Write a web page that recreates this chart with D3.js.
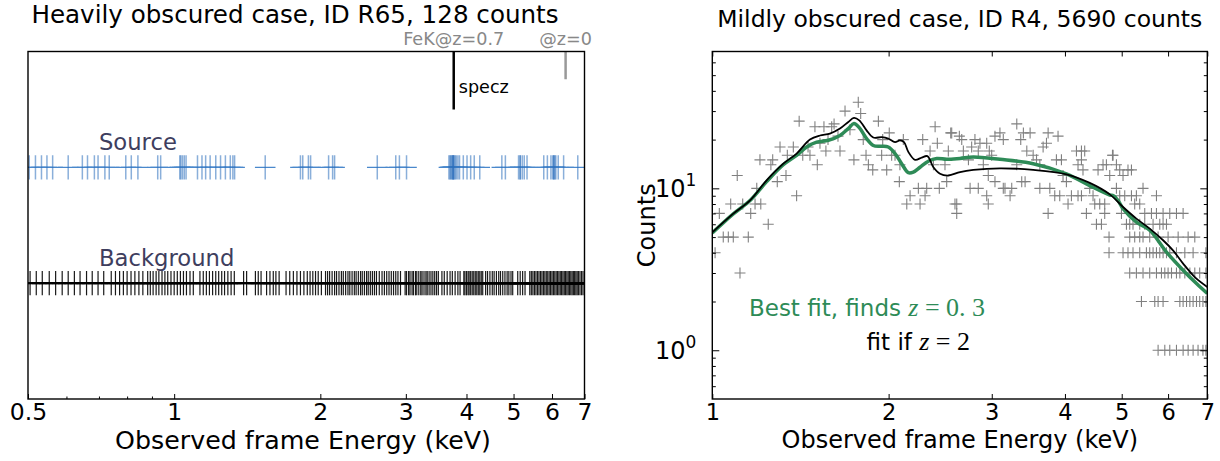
<!DOCTYPE html>
<html>
<head>
<meta charset="utf-8">
<script src="https://cdn.jsdelivr.net/npm/d3@7"></script>
<style>
  body { margin: 0; background: #fff; }
  text { font-family: "DejaVu Sans", sans-serif; }
</style>
</head>
<body>
<script>
// ---- data ----
var leftTitle = "Heavily obscured case, ID R65, 128 counts"
var rightTitle = "Mildly obscured case, ID R4, 5690 counts"
var xLabel = "Observed frame Energy (keV)"
var yLabel = "Counts"

var leftTicks = [0.5, 1, 2, 3, 4, 5, 6, 7]
var leftMinor = [0.6, 0.7, 0.8, 0.9]
var rightTicks = [1, 2, 3, 4, 5, 6, 7]
var rightYTicks = [1, 10]
var rightYMinor = [0.6, 0.7, 0.8, 0.9, 2, 3, 4, 5, 6, 7, 8, 9, 20, 30, 40, 50, 60]

var speczE = 3.765   // FeK line at z=0.7
var fekE = 6.4       // FeK line at z=0

// source photon energies (keV)
var sourceE = [0.503, 0.518, 0.533, 0.547, 0.562, 0.605, 0.647, 0.663, 0.685, 0.697,
  0.720, 0.735, 0.795, 0.816, 0.842, 0.925, 0.938, 1.027, 1.032, 1.040, 1.049, 1.058,
  1.117, 1.141, 1.161, 1.186, 1.218, 1.246, 1.275, 1.305, 1.321, 1.332, 1.54,
  1.82, 1.84, 1.89, 1.91, 2.08, 2.12, 2.14, 2.62, 2.86, 2.91, 3.01,
  3.68, 3.70, 3.71, 3.73, 3.74, 3.75, 3.76, 3.76, 3.77, 3.79, 3.81, 3.84, 3.87, 3.94,
  4.01, 4.08, 4.15, 4.26, 4.73, 4.81, 5.12, 5.16, 5.16, 5.21, 5.26, 5.33,
  5.77, 5.87, 5.97, 6.02, 6.05, 6.05, 6.08, 6.11, 6.18, 6.34, 6.78]

// background photon energies (keV)
var backgroundE = [0.505, 0.52, 0.535, 0.553, 0.57, 0.588, 0.605, 0.623, 0.64, 0.66, 0.678, 0.697, 0.716,
  0.742, 0.757, 0.772, 0.786, 0.80, 0.815, 0.83, 0.846, 0.862,
  0.882, 0.893, 0.905, 0.918, 0.93, 0.944, 0.957, 0.97, 0.985, 1.0, 1.015, 1.03, 1.045, 1.06, 1.078, 1.095,
  1.13, 1.148, 1.165, 1.182, 1.2, 1.218, 1.235, 1.253, 1.27, 1.29, 1.31, 1.33,
  1.39, 1.41, 1.47, 1.49, 1.51, 1.55, 1.575, 1.60, 1.62, 1.645, 1.70, 1.73, 1.76, 1.79,
  1.82, 1.85, 1.88, 1.905, 1.93, 1.955, 1.98, 2.01,
  2.05, 2.07, 2.09, 2.115, 2.14, 2.16, 2.185, 2.21, 2.23, 2.255, 2.28, 2.3, 2.325, 2.35, 2.37,
  2.395, 2.42, 2.44, 2.465, 2.49, 2.51, 2.535, 2.56, 2.585, 2.61,
  2.645, 2.68, 2.71, 2.74, 2.77, 2.8, 2.83, 2.86, 2.89, 2.925,
  2.99, 3.01, 3.04, 3.06, 3.09, 3.11, 3.14, 3.16, 3.19, 3.22, 3.24, 3.27, 3.3, 3.32, 3.35, 3.38, 3.41, 3.44, 3.47, 3.5,
  3.56, 3.6, 3.65, 3.7, 3.74, 3.79, 3.84, 3.88,
  3.95, 3.97, 4.0, 4.03, 4.05, 4.08, 4.11, 4.14, 4.17, 4.2, 4.23, 4.26, 4.29, 4.32,
  4.38, 4.42, 4.47, 4.52, 4.56, 4.61, 4.66, 4.7, 4.75, 4.8, 4.85, 4.89, 4.94, 4.98,
  5.1, 5.16, 5.22, 5.28,
  5.4, 5.44, 5.48, 5.52, 5.56, 5.6, 5.64, 5.68, 5.72, 5.76, 5.8, 5.84, 5.88, 5.92, 5.96, 6.0,
  6.04, 6.08, 6.12, 6.16, 6.2, 6.24, 6.28, 6.32, 6.36, 6.4, 6.44, 6.48, 6.52, 6.56, 6.6, 6.64,
  6.68, 6.72, 6.76, 6.8, 6.85, 6.9, 6.95]

// binned spectrum of R4: [energy keV, counts]
var spectrum = [
  [1.028, 7], [1.075, 8], [1.103, 12], [1.127, 8], [1.163, 7], [1.183, 8], [1.191, 10], [1.210, 8],
  [1.206, 15], [1.246, 6], [1.259, 14], [1.268, 15], [1.291, 11], [1.305, 18], [1.336, 12], [1.343, 16],
  [1.393, 9], [1.407, 26], [1.375, 18], [1.427, 16], [1.468, 16], [1.511, 14], [1.497, 24], [1.527, 19],
  [1.551, 24], [1.563, 17], [1.599, 24], [1.614, 25], [1.652, 17], [1.685, 30], [1.745, 15], [1.775, 34],
  [1.792, 29], [1.810, 20], [1.847, 14], [1.879, 13], [1.921, 26], [1.946, 16], [1.985, 13], [2.005, 22],
  [2.024, 16], [2.086, 11], [2.119, 20], [2.176, 9], [2.148, 8], [2.248, 10], [2.263, 8], [2.287, 20],
  [2.323, 10], [2.308, 9], [2.354, 17], [2.401, 24], [2.422, 19], [2.441, 10], [2.496, 14], [2.529, 17],
  [2.553, 22], [2.614, 8], [2.614, 7], [2.641, 21], [2.513, 11], [2.385, 14], [2.091, 14], [2.051, 16],
  [1.954, 20], [1.830, 16], [1.718, 23], [1.011, 4], [1.044, 5], [1.065, 5], [1.086, 5], [1.152, 5],
  [1.115, 3], [1.457, 18], [1.576, 20], [1.639, 21],
  [2.563, 22], [2.666, 20], [2.596, 8], [2.683, 17], [2.737, 15], [2.772, 18], [2.808, 20], [2.845, 17],
  [2.864, 19], [2.902, 14], [2.941, 19], [2.971, 17], [2.999, 16], [3.038, 21], [3.098, 22], [3.139, 20],
  [3.139, 10], [2.755, 10], [2.845, 10], [2.941, 9], [2.959, 8], [2.959, 12], [3.038, 11], [3.160, 10],
  [3.224, 9], [3.245, 10], [3.310, 25], [3.310, 14], [3.362, 20], [3.397, 22], [3.488, 22], [3.375, 11],
  [3.420, 11], [3.443, 17], [3.530, 16], [3.577, 15], [3.624, 14], [3.671, 18], [3.720, 19], [3.744, 22],
  [3.893, 21], [3.624, 10], [3.769, 10], [3.744, 7], [3.843, 9], [3.919, 9], [3.868, 15], [3.945, 15],
  [3.970, 12], [4.023, 11], [4.049, 8], [4.103, 9], [4.185, 17], [4.268, 17], [4.323, 17], [4.211, 14],
  [4.268, 15], [4.294, 13], [4.211, 9], [4.268, 9], [4.352, 7], [4.409, 10], [4.467, 9], [4.497, 8],
  [4.586, 8], [4.677, 8], [4.556, 13], [4.646, 14], [4.708, 14], [4.770, 12], [4.833, 16], [4.897, 14],
  [4.961, 13], [5.026, 12], [5.125, 13], [5.195, 13], [4.822, 16], [4.677, 7], [4.897, 10], [4.961, 9],
  [5.060, 9], [4.995, 7], [5.195, 9], [5.297, 9], [5.262, 8], [5.367, 8], [5.437, 10], [5.474, 7],
  [5.620, 7], [5.732, 7], [5.732, 9], [5.883, 7], [6.040, 7], [6.201, 7], [6.365, 7],
  [4.527, 6], [4.617, 6], [5.094, 6], [5.160, 6], [5.227, 6], [5.367, 6], [5.474, 6], [5.656, 6],
  [5.807, 6], [5.883, 6], [5.962, 6],
  [4.757, 5], [5.160, 5], [5.262, 5], [5.367, 5], [5.437, 5], [5.582, 5], [5.769, 5], [6.000, 5],
  [6.242, 5], [6.492, 5], [6.664, 5],
  [4.757, 4], [5.026, 4], [5.125, 4], [5.227, 4], [5.367, 4], [5.510, 4], [5.582, 4], [5.656, 4],
  [5.732, 4], [5.807, 4], [5.883, 4], [5.962, 4], [6.040, 4], [6.201, 4], [6.408, 4], [6.620, 4], [6.961, 4],
  [5.160, 3], [5.297, 3], [5.437, 3], [5.582, 3], [5.732, 3], [5.846, 3], [5.923, 3], [6.000, 3],
  [6.081, 3], [6.201, 3], [6.284, 3], [6.408, 3], [6.536, 3], [6.664, 3], [6.794, 3], [6.961, 3],
  [5.403, 2], [5.694, 2], [5.769, 2], [5.883, 2], [6.284, 2], [6.365, 2], [6.451, 2], [6.536, 2],
  [6.620, 2], [6.709, 2], [6.794, 2], [6.881, 2], [6.961, 2],
  [5.769, 1], [5.923, 1], [6.040, 1], [6.201, 1], [6.365, 1], [6.492, 1], [6.620, 1], [6.750, 1],
  [6.881, 1], [6.961, 1]
]

// model curves: [energy keV, counts]
var bestFit = [[1.0, 5.3], [1.086, 6.95], [1.16, 8.4], [1.238, 11.0], [1.322, 14.0], [1.393, 16.0],
  [1.449, 18.0], [1.507, 19.3], [1.578, 19.8], [1.652, 21.2], [1.707, 23.4], [1.745, 25.1], [1.782, 23.7],
  [1.834, 20.3], [1.883, 18.4], [1.946, 18.2], [1.997, 18.0], [2.051, 16.4], [2.105, 14.2], [2.161, 12.5],
  [2.204, 12.6], [2.263, 13.5], [2.338, 14.7], [2.417, 15.3], [2.513, 15.1], [2.648, 15.3], [2.79, 15.6],
  [3.098, 15.1], [3.53, 14.2], [4.023, 12.3], [4.409, 10.4], [4.77, 9.1], [4.84, 9.0], [4.93, 8.4],
  [5.026, 7.49], [5.297, 6.19], [5.582, 5.51], [5.962, 4.04], [6.365, 3.12], [6.709, 2.58], [7.0, 2.24]]

var fitZ2 = [[1.0, 5.35], [1.086, 6.98], [1.16, 8.43], [1.238, 11.2], [1.322, 14.2], [1.393, 16.4],
  [1.468, 20.0], [1.527, 21.2], [1.588, 21.8], [1.652, 23.4], [1.707, 25.7], [1.745, 27.2], [1.782, 26.3],
  [1.834, 22.8], [1.883, 20.6], [1.946, 20.7], [1.997, 20.3], [2.051, 19.3], [2.091, 19.8], [2.125, 19.3],
  [2.161, 16.8], [2.219, 15.0], [2.278, 15.5], [2.329, 15.8], [2.385, 13.5], [2.448, 12.3], [2.529, 12.0],
  [2.648, 12.6], [2.79, 13.0], [3.098, 13.3], [3.53, 13.0], [4.023, 12.2], [4.409, 10.8], [4.77, 9.18],
  [5.026, 7.67], [5.297, 6.5], [5.582, 5.64], [5.883, 4.78], [6.117, 4.14], [6.365, 3.43], [6.664, 2.83],
  [7.0, 2.46]]

// ---- layout ----
var width = 1220, height = 461
var top0 = 51.5, bottom0 = 399
var left = { x0: 28, x1: 584.5 }
var right = { x0: 712.3, x1: 1207.3 }
var green = "#2e8b57"
var font = "DejaVu Sans"

var svg = d3.select("body").append("svg")
  .attr("width", width).attr("height", height)
  .style("background", "#fff")

var defs = svg.append("defs")
defs.append("clipPath").attr("id", "clipL").append("rect")
  .attr("x", left.x0).attr("y", top0).attr("width", left.x1 - left.x0).attr("height", bottom0 - top0)
defs.append("clipPath").attr("id", "clipR").append("rect")
  .attr("x", right.x0).attr("y", top0).attr("width", right.x1 - right.x0).attr("height", bottom0 - top0)

function styleTicks(g, size) {
  g.select(".domain").remove()
  g.selectAll("line").attr("stroke", "#000").attr("stroke-width", 1)
  g.selectAll("text").attr("font-size", size).attr("font-family", font).attr("fill", "#000")
}

// ================= left panel =================
var xL = d3.scaleLog().domain([0.5, 7]).range([left.x0, left.x1])
var yL = d3.scaleLinear().domain([0, 3]).range([bottom0, top0])
var gL = svg.append("g")
var plotL = gL.append("g").attr("clip-path", "url(#clipL)")

var tickH = 0.105

// background
plotL.selectAll(".bgbar").data(backgroundE).enter().append("line")
  .attr("x1", d => xL(d / 1.05)).attr("x2", d => xL(d * 1.05))
  .attr("y1", yL(1)).attr("y2", yL(1))
  .attr("stroke", "#000").attr("stroke-width", 2)
plotL.selectAll(".bgtick").data(backgroundE).enter().append("line")
  .attr("x1", d => xL(d)).attr("x2", d => xL(d))
  .attr("y1", yL(1 - tickH)).attr("y2", yL(1 + tickH))
  .attr("stroke", "#000").attr("stroke-opacity", 0.9).attr("stroke-width", 1.2)

// source
plotL.selectAll(".srcbar").data(sourceE).enter().append("line")
  .attr("x1", d => xL(d / 1.05)).attr("x2", d => xL(d * 1.05))
  .attr("y1", yL(2)).attr("y2", yL(2))
  .attr("stroke", "#4a88cc").attr("stroke-width", 1.3)
plotL.selectAll(".srctick").data(sourceE).enter().append("line")
  .attr("x1", d => xL(d)).attr("x2", d => xL(d))
  .attr("y1", yL(2 - tickH)).attr("y2", yL(2 + tickH))
  .attr("stroke", "#2a6ebb").attr("stroke-opacity", 0.55).attr("stroke-width", 1.5)

// redshift markers
plotL.append("line")
  .attr("x1", xL(speczE)).attr("x2", xL(speczE))
  .attr("y1", yL(3)).attr("y2", yL(2.5))
  .attr("stroke", "#000").attr("stroke-width", 2.5)
plotL.append("line")
  .attr("x1", xL(fekE)).attr("x2", xL(fekE))
  .attr("y1", yL(3)).attr("y2", yL(2.76))
  .attr("stroke", "#999").attr("stroke-width", 2.5)

gL.append("text").attr("x", xL(speczE) + 5).attr("y", yL(2.64))
  .attr("font-size", 17.6).text("specz")
gL.append("text").attr("x", xL(speczE)).attr("y", 45).attr("text-anchor", "middle")
  .attr("font-size", 17.6).attr("fill", "#888").text("FeK@z=0.7")
gL.append("text").attr("x", xL(fekE)).attr("y", 45).attr("text-anchor", "middle")
  .attr("font-size", 17.6).attr("fill", "#888").text("@z=0")

gL.append("text").attr("x", xL(0.7)).attr("y", yL(2) - 17)
  .attr("font-size", 22.7).attr("fill", "#3e3e5e").text("Source")
gL.append("text").attr("x", xL(0.7)).attr("y", yL(1) - 17.5)
  .attr("font-size", 22.7).attr("fill", "#3e3e5e").text("Background")

// axes
gL.append("g").attr("transform", "translate(0," + bottom0 + ")")
  .call(d3.axisBottom(xL).tickValues(leftTicks).tickFormat(d3.format("")).tickSizeInner(-5).tickSizeOuter(0).tickPadding(4))
  .call(g => styleTicks(g, 23.5))
gL.append("g").attr("transform", "translate(0," + bottom0 + ")")
  .call(d3.axisBottom(xL).tickValues(leftMinor).tickFormat("").tickSizeInner(-2.5).tickSizeOuter(0))
  .call(g => styleTicks(g, 23.5))

gL.append("rect").attr("x", left.x0).attr("y", top0)
  .attr("width", left.x1 - left.x0).attr("height", bottom0 - top0)
  .attr("fill", "none").attr("stroke", "#000").attr("stroke-width", 1.4)

gL.append("text").attr("x", 295).attr("y", 22.6).attr("text-anchor", "middle")
  .attr("font-size", 24.6).text(leftTitle)
gL.append("text").attr("x", 303).attr("y", 449).attr("text-anchor", "middle")
  .attr("font-size", 25.3).text(xLabel)

// ================= right panel =================
var xR = d3.scaleLog().domain([1, 7]).range([right.x0, right.x1])
var yR = d3.scaleLog().domain([0.5, 70]).range([bottom0, top0])
var gR = svg.append("g")
var plotR = gR.append("g").attr("clip-path", "url(#clipR)")

plotR.selectAll(".pt").data(spectrum).enter().append("path")
  .attr("transform", d => "translate(" + xR(d[0]) + "," + yR(d[1]) + ")")
  .attr("d", "M-5.5,0H5.5M0,-5.5V5.5")
  .attr("stroke", "#808080").attr("stroke-width", 1.1).attr("fill", "none")

var line = d3.line()
  .x(d => xR(d[0])).y(d => yR(d[1]))
  .curve(d3.curveCatmullRom)

plotR.append("path").attr("d", line(bestFit))
  .attr("fill", "none").attr("stroke", green).attr("stroke-width", 3.5)
plotR.append("path").attr("d", line(fitZ2))
  .attr("fill", "none").attr("stroke", "#000").attr("stroke-width", 1.8)

// axes
gR.append("g").attr("transform", "translate(0," + bottom0 + ")")
  .call(d3.axisBottom(xR).tickValues(rightTicks).tickFormat(d3.format("")).tickSizeInner(-5).tickSizeOuter(0).tickPadding(5))
  .call(g => styleTicks(g, 22.5))
gR.append("g").attr("transform", "translate(0," + top0 + ")")
  .call(d3.axisTop(xR).tickValues(rightTicks).tickFormat("").tickSizeInner(-5).tickSizeOuter(0))
  .call(g => styleTicks(g, 22))
gR.append("g").attr("transform", "translate(" + right.x0 + ",0)")
  .call(d3.axisLeft(yR).tickValues(rightYTicks).tickFormat("").tickSizeInner(-7).tickSizeOuter(0))
  .call(g => styleTicks(g, 22))
gR.append("g").attr("transform", "translate(" + right.x0 + ",0)")
  .call(d3.axisLeft(yR).tickValues(rightYMinor).tickFormat("").tickSizeInner(-3.5).tickSizeOuter(0))
  .call(g => styleTicks(g, 22))
gR.append("g").attr("transform", "translate(" + right.x1 + ",0)")
  .call(d3.axisRight(yR).tickValues(rightYTicks).tickFormat("").tickSizeInner(-7).tickSizeOuter(0))
  .call(g => styleTicks(g, 22))
gR.append("g").attr("transform", "translate(" + right.x1 + ",0)")
  .call(d3.axisRight(yR).tickValues(rightYMinor).tickFormat("").tickSizeInner(-3.5).tickSizeOuter(0))
  .call(g => styleTicks(g, 22))

// power of ten labels
rightYTicks.forEach(function (v) {
  var t = gR.append("text").attr("x", right.x0 - 16).attr("y", yR(v) + 9)
    .attr("text-anchor", "end").attr("font-size", 24)
  t.append("tspan").text("10")
  t.append("tspan").attr("dy", -11).attr("font-size", 17).text(String(Math.round(Math.log10(v))))
})

gR.append("rect").attr("x", right.x0).attr("y", top0)
  .attr("width", right.x1 - right.x0).attr("height", bottom0 - top0)
  .attr("fill", "none").attr("stroke", "#000").attr("stroke-width", 1.4)

// annotations
var tBest = gR.append("text").attr("x", xR(1.155)).attr("y", yR(1.62))
  .attr("font-size", 23).attr("fill", green)
tBest.append("tspan").text("Best fit, finds ")
tBest.append("tspan").attr("font-family", "Liberation Serif").attr("font-style", "italic").attr("font-size", 26).text("z")
tBest.append("tspan").attr("font-family", "Liberation Serif").attr("font-size", 26).text(" = 0. 3")

var tZ2 = gR.append("text").attr("x", xR(1.834)).attr("y", yR(1.0))
  .attr("font-size", 23).attr("fill", "#000")
tZ2.append("tspan").text("fit if ")
tZ2.append("tspan").attr("font-family", "Liberation Serif").attr("font-style", "italic").attr("font-size", 26).text("z")
tZ2.append("tspan").attr("font-family", "Liberation Serif").attr("font-size", 26).text(" = 2")

gR.append("text").attr("x", (right.x0 + right.x1) / 2).attr("y", 27).attr("text-anchor", "middle")
  .attr("font-size", 23.5).text(rightTitle)
gR.append("text").attr("x", (right.x0 + right.x1) / 2).attr("y", 448).attr("text-anchor", "middle")
  .attr("font-size", 24).text(xLabel)
gR.append("text").attr("transform", "translate(655," + (top0 + bottom0) / 2 + ") rotate(-90)")
  .attr("text-anchor", "middle").attr("font-size", 24).text(yLabel)
</script>
</body>
</html>
